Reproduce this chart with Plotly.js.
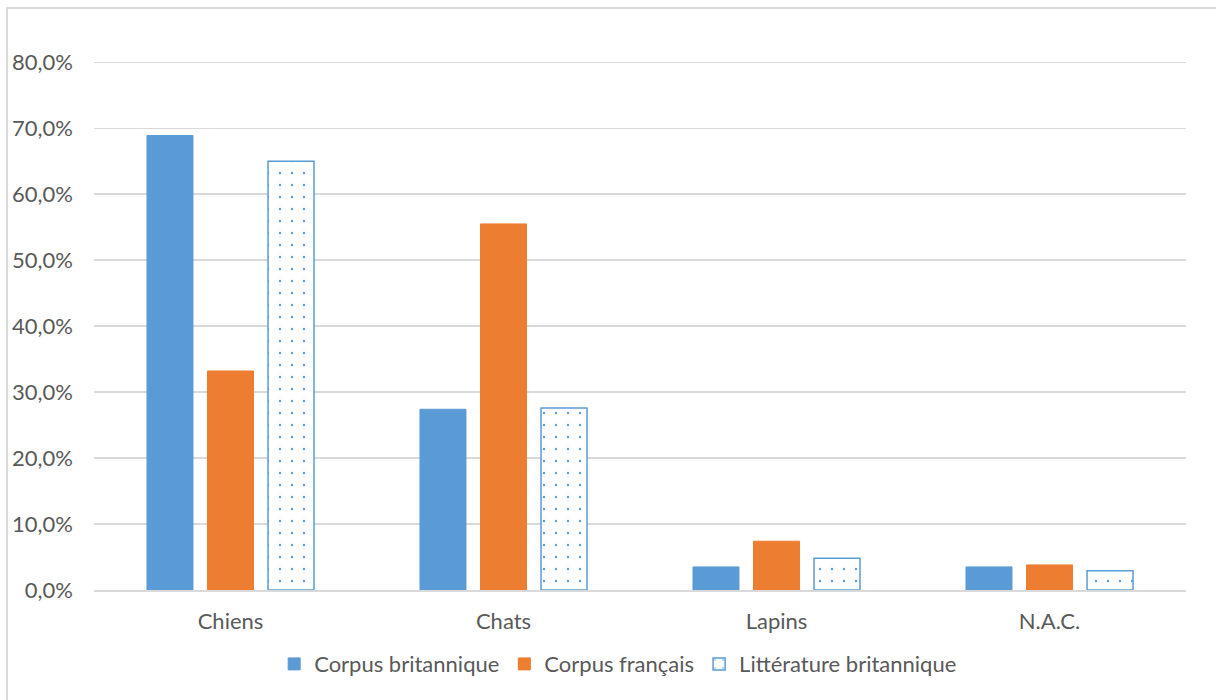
<!DOCTYPE html>
<html>
<head>
<meta charset="utf-8">
<script src="https://cdn.plot.ly/plotly-3.0.1.min.js"></script>
<style>
html,body{margin:0;padding:0;background:#fff;width:1216px;height:700px;overflow:hidden;}
#frame{position:absolute;left:6px;top:7px;width:1300px;height:800px;border-left:2px solid #d9d9d9;border-top:2px solid #d9d9d9;}
#chart{position:absolute;left:0;top:0;width:1216px;height:700px;}
</style>
</head>
<body>
<div id="frame"></div>
<div id="chart"></div>
<script>
const categories = ["Chiens", "Chats", "Lapins", "N.A.C."];
const seriesNames = ["Corpus britannique", "Corpus français", "Littérature britannique"];
const corpusBritannique = [0.689, 0.274, 0.035, 0.035];
const corpusFrancais = [0.332, 0.555, 0.074, 0.038];
const litteratureBritannique = [0.650, 0.276, 0.048, 0.029];
const yTickVals = [0, 0.1, 0.2, 0.3, 0.4, 0.5, 0.6, 0.7, 0.8];
const yTickText = ["0,0%", "10,0%", "20,0%", "30,0%", "40,0%", "50,0%", "60,0%", "70,0%", "80,0%"];

const traces = [
  {type:'bar', name:seriesNames[0], x:categories, y:corpusBritannique,
   marker:{color:'#5b9bd5', line:{color:'#5b9bd5', width:1}}},
  {type:'bar', name:seriesNames[1], x:categories, y:corpusFrancais,
   marker:{color:'#ed7d31', line:{color:'#ed7d31', width:1}}},
  {type:'bar', name:seriesNames[2], x:categories, y:litteratureBritannique,
   marker:{color:'#ffffff', line:{color:'#5b9bd5', width:1.5},
     pattern:{shape:'.', fgcolor:'#5b9bd5', bgcolor:'#ffffff', size:12, solidity:0.03}}}
];

const layout = {
  width:1216, height:700,
  paper_bgcolor:'rgba(0,0,0,0)', plot_bgcolor:'rgba(0,0,0,0)',
  margin:{l:94, r:30, t:59, b:110},
  font:{family:'Lato, "Open Sans", sans-serif', color:'#595959', size:22},
  barmode:'group', bargap:0.335, bargroupgap:0.24,
  showlegend:true,
  legend:{orientation:'h', x:0.48, xanchor:'center', y:-0.1, yanchor:'top',
    font:{size:22, color:'#595959'}, itemwidth:30, traceorder:'normal'},
  xaxis:{type:'category', showgrid:false, showline:true, linecolor:'#d9d9d9', linewidth:2,
    ticks:'', ticklabelstandoff:11, tickfont:{size:22, color:'#595959'}, fixedrange:true},
  yaxis:{range:[0,0.805], tickvals:yTickVals, ticktext:yTickText, showgrid:true,
    gridcolor:'#d9d9d9', gridwidth:1.5, zeroline:false, showline:false, ticks:'',
    ticklabelstandoff:20, tickfont:{size:22, color:'#595959'}, fixedrange:true}
};

Plotly.newPlot('chart', traces, layout, {displayModeBar:false, staticPlot:true});
</script>
</body>
</html>
